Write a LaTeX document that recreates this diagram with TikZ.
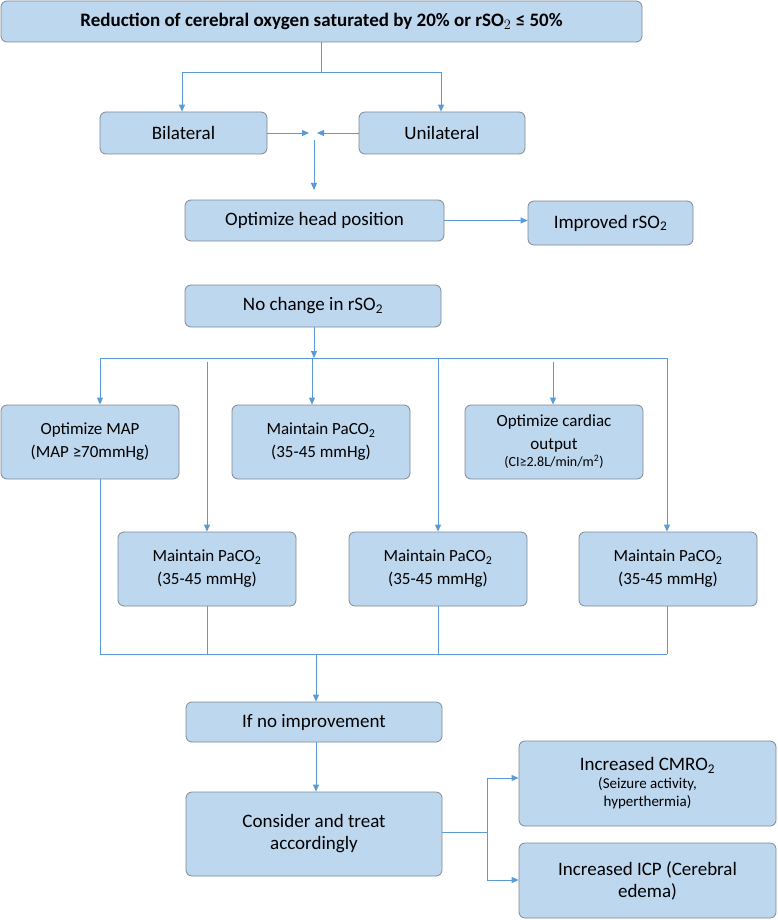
\documentclass[tikz,border=0pt]{standalone}
\usepackage{fontspec}
\setmainfont{Carlito}
\usetikzlibrary{arrows.meta}
\definecolor{bf}{HTML}{BDD7EE}
\definecolor{bd}{HTML}{7F8A96}
\definecolor{ln}{HTML}{5B9BD5}
\begin{document}
\begin{tikzpicture}[x=1pt,y=-1pt,
 box/.style={draw=bd,fill=bf,rounded corners=6pt,line width=0.8pt,align=center,inner sep=0pt,font=\fontsize{19}{22}\selectfont},
 sm/.style={box,font=\fontsize{17}{23}\selectfont},
 ln/.style={draw=ln,line width=0.9pt},
 ar/.style={ln,-{Triangle[width=6pt,length=7pt]}}]
\useasboundingbox (0,0) rectangle (777,920);
\def\bx#1#2#3#4#5#6#7{\node[#2,minimum width=#5-#3,minimum height=#6-#4] (#1) at ({(#3+#5)/2},{(#4+#6)/2}) {#7};}
\bx{top}{box}{1}{1}{642}{42}{\textbf{Reduction of cerebral oxygen saturated by 20\% or rSO$_2$ ≤ 50\%}}
\bx{bil}{box}{100}{112}{267}{154}{Bilateral}
\bx{uni}{box}{359}{112}{525}{154}{Unilateral}
\bx{head}{box}{185}{200}{444}{241}{Optimize head position}
\bx{imp}{box}{528}{201}{693}{245}{Improved rSO\textsubscript{2}}
\bx{noc}{box}{185}{285}{441}{327}{No change in rSO\textsubscript{2}}
\bx{map}{sm}{1}{405}{179}{479}{Optimize MAP\\(MAP ≥70mmHg)}
\bx{pa1}{sm}{232}{405}{410}{479}{Maintain PaCO\textsubscript{2}\\(35-45 mmHg)}
\bx{co}{sm}{465}{405}{643}{479}{Optimize cardiac\\output\\[-6pt]{\fontsize{14}{16}\selectfont (CI≥2.8L/min/m\textsuperscript{2})}}
\bx{pa2}{sm}{118}{532}{296}{606}{Maintain PaCO\textsubscript{2}\\(35-45 mmHg)}
\bx{pa3}{sm}{349}{532}{527}{606}{Maintain PaCO\textsubscript{2}\\(35-45 mmHg)}
\bx{pa4}{sm}{579}{532}{757}{606}{Maintain PaCO\textsubscript{2}\\(35-45 mmHg)}
\bx{noi}{box}{186}{702}{442}{742}{If no improvement}
\bx{cons}{box}{186}{792}{442}{876}{Consider and treat\\accordingly}
\bx{cmro}{box}{519}{741}{776}{826}{Increased CMRO\textsubscript{2}\\[-4pt]{\fontsize{15}{18}\selectfont (Seizure activity,}\\[-4pt]{\fontsize{15}{18}\selectfont hyperthermia)}}
\bx{icp}{box}{519}{843}{776}{918}{Increased ICP (Cerebral\\edema)}
\coordinate (j1) at (321,72);
\coordinate (m) at (314,133);
\coordinate (b1) at (314,358);
\coordinate (b2) at (316,654);
\coordinate (s) at (487,832);
\draw[ln] (top.south -| j1) -- (j1);
\draw[ln] (182,72) -- (441,72);
\draw[ar] (182,72) -- (bil.north -| 182,0);
\draw[ar] (441,72) -- (uni.north -| 441,0);
\draw[ar] (bil.east) -- (309,133);
\draw[ar] (uni.west) -- (317,133);
\draw[ar] (314,140) -- (314,190);
\draw[ar] (head.east) -- (imp.west |- head.east);
\draw[ar] (noc.south -| b1) -- (b1);
\draw[ln] (100,358) -- (667,358);
\draw[ar] (100,358) -- (map.north -| 100,0);
\draw[ar] (312,358) -- (pa1.north -| 312,0);
\draw[ar] (553,362) -- (co.north -| 553,0);
\draw[ar] (207,362) -- (pa2.north -| 207,0);
\draw[ar] (438,358) -- (pa3.north -| 438,0);
\draw[ar] (667,358) -- (pa4.north -| 667,0);
\draw[ln] (map.south -| 100,0) -- (100,654) -- (667,654);
\draw[ln] (pa2.south -| 207,0) -- (207,654);
\draw[ln] (pa3.south -| 438,0) -- (438,654);
\draw[ln] (pa4.south -| 667,0) -- (667,654);
\draw[ar] (b2) -- (noi.north -| b2);
\draw[ar] (noi.south -| b2) -- (cons.north -| b2);
\draw[ln] (cons.east |- s) -- (s);
\draw[ar] (s) |- (cmro.west |- 0,778);
\draw[ar] (s) |- (icp.west |- 0,880);
\end{tikzpicture}
\end{document}
